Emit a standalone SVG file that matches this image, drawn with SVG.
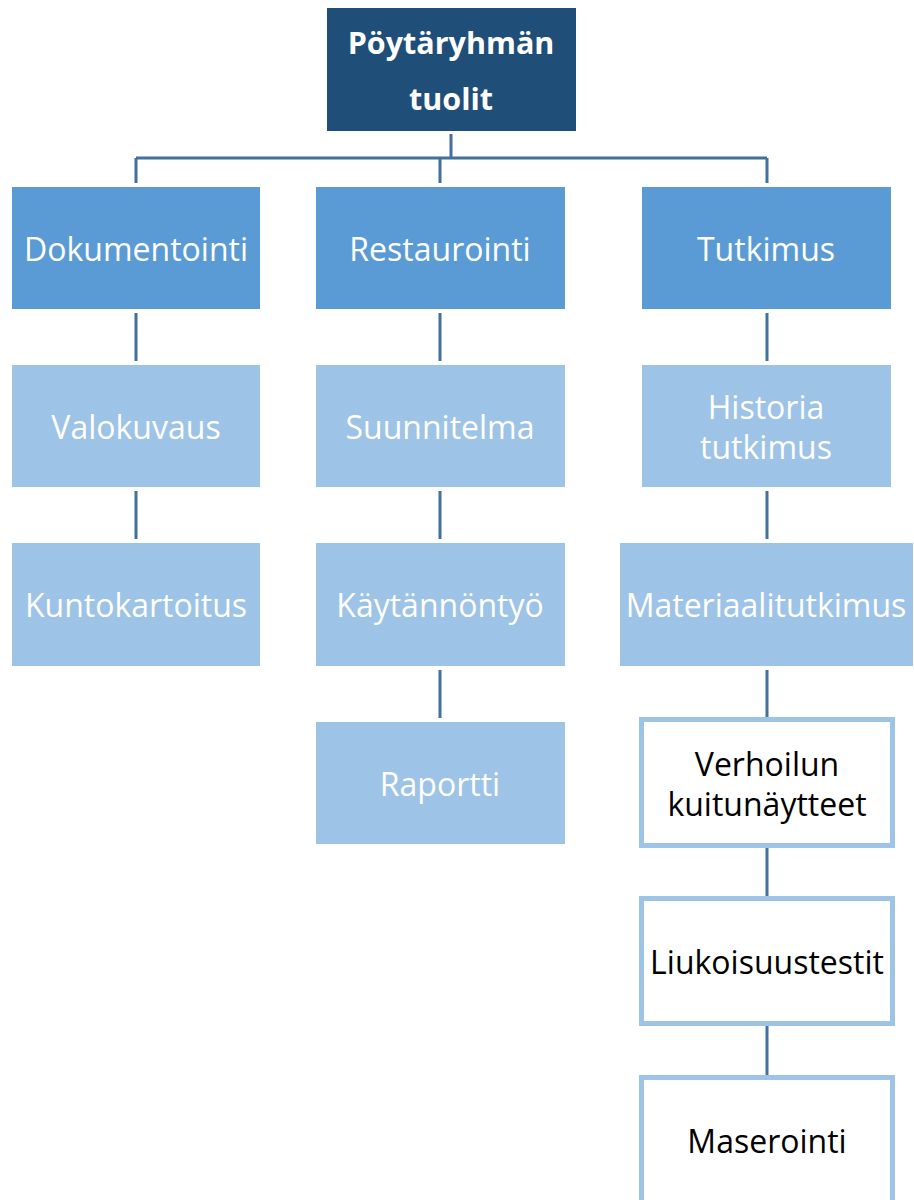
<svg xmlns="http://www.w3.org/2000/svg" width="914" height="1200" viewBox="0 0 914 1200">
<style>
.t{font-family:"Open Sans","Noto Sans","Liberation Sans",sans-serif;font-size:32px;text-anchor:middle;dominant-baseline:central}
.w{fill:#ffffff}
.k{fill:#000000}
.b{font-weight:bold;font-size:30.5px}
.c{stroke:#41719C;stroke-width:3;fill:none}
.l1{fill:#5B9BD5}
.l2{fill:#9DC3E6}
.wb{fill:#ffffff;stroke:#9DC3E6;stroke-width:5}
</style>
<rect width="914" height="1200" fill="#ffffff"/>
<g id="connectors">
<path class="c" d="M451 134V158M136 158H767M136 158V183M440 158V183M767 158V183"/>
<path class="c" d="M136 313V361M136 491V539"/>
<path class="c" d="M440 313V361M440 491V539M440 670V718"/>
<path class="c" d="M767 313V361M767 491V539M767 670V717M767 848V896M767 1026V1075"/>
</g>
<g id="n-root"><rect x="327" y="8" width="249" height="123" fill="#1F4E79"/>
<text class="t w b" x="451" y="42">Pöytäryhmän</text><text class="t w b" x="451" y="98">tuolit</text></g>
<g id="n-dok"><rect class="l1" x="12" y="187" width="248" height="122"/><text class="t w" x="136" y="248">Dokumentointi</text></g>
<g id="n-res"><rect class="l1" x="316" y="187" width="249" height="122"/><text class="t w" x="440" y="248">Restaurointi</text></g>
<g id="n-tut"><rect class="l1" x="642" y="187" width="249" height="122"/><text class="t w" x="766" y="248">Tutkimus</text></g>
<g id="n-val"><rect class="l2" x="12" y="365" width="248" height="122"/><text class="t w" x="136" y="426">Valokuvaus</text></g>
<g id="n-kun"><rect class="l2" x="12" y="543" width="248" height="123"/><text class="t w" x="136" y="604">Kuntokartoitus</text></g>
<g id="n-suu"><rect class="l2" x="316" y="365" width="249" height="122"/><text class="t w" x="440" y="426">Suunnitelma</text></g>
<g id="n-kay"><rect class="l2" x="316" y="543" width="249" height="123"/><text class="t w" x="440" y="604">Käytännöntyö</text></g>
<g id="n-rap"><rect class="l2" x="316" y="722" width="249" height="122"/><text class="t w" x="440" y="783">Raportti</text></g>
<g id="n-his"><rect class="l2" x="642" y="365" width="249" height="122"/><text class="t w" x="766" y="406">Historia</text><text class="t w" x="766" y="446">tutkimus</text></g>
<g id="n-mat"><rect class="l2" x="620" y="543" width="293" height="123"/><text class="t w" x="766" y="604">Materiaalitutkimus</text></g>
<g id="n-ver"><rect class="wb" x="641.5" y="719.5" width="251" height="126"/><text class="t k" x="767" y="763">Verhoilun</text><text class="t k" x="767" y="803">kuitunäytteet</text></g>
<g id="n-liu"><rect class="wb" x="641.5" y="898.5" width="251" height="125"/><text class="t k" x="767" y="961">Liukoisuustestit</text></g>
<g id="n-mas"><rect class="wb" x="641.5" y="1077.5" width="251" height="140"/><text class="t k" x="767" y="1140">Maserointi</text></g>
</svg>
